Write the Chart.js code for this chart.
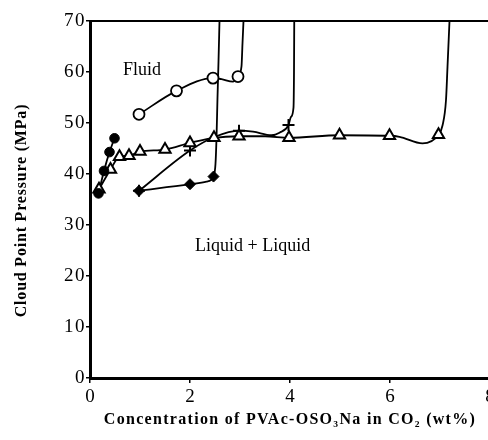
<!DOCTYPE html>
<html><head><meta charset="utf-8">
<script src="https://cdn.jsdelivr.net/npm/chart.js@4/dist/chart.umd.min.js"></script>
<style>
html,body{margin:0;padding:0;background:#fff;overflow:hidden;width:488px;height:440px;}
#wrap{position:relative;width:510px;height:440px;}
canvas{display:block;}
</style></head><body>
<div id="wrap"><canvas id="c" width="510" height="440"></canvas></div>
<script>
// ---- axis ticks ----
const xTickValues = [0, 2, 4, 6, 8];
const yTickValues = [0, 10, 20, 30, 40, 50, 60, 70];

// ---- measured points (markers) ----
const filledCircleX = [0.17, 0.28, 0.39, 0.49];
const filledCircleY = [36.2, 40.6, 44.3, 47.0];

const openTriangleX = [0.18, 0.41, 0.59, 0.78, 1.0, 1.5, 2.0, 2.48, 2.98, 3.98, 4.99, 5.99, 6.97];
const openTriangleY = [37.0, 40.9, 43.4, 43.6, 44.4, 44.8, 46.1, 47.1, 47.4, 47.1, 47.6, 47.5, 47.7];

const openCircleX = [0.98, 1.73, 2.46, 2.96];
const openCircleY = [51.7, 56.3, 58.8, 59.1];

const diamondX = [0.98, 2.0, 2.47];
const diamondY = [36.7, 38.0, 39.5];

const plusX = [0.98, 2.0, 2.98, 3.97];
const plusY = [36.7, 44.6, 48.5, 49.6];

// ---- curve traces (lines through the points) ----
const filledCircleLineX = [0.17, 0.28, 0.39, 0.49];
const filledCircleLineY = [36.2, 40.6, 44.3, 47.0];

const openTriangleLineX = [0.18, 0.41, 0.59, 0.78, 1.0, 1.5, 2.0, 2.48, 2.98, 3.5, 3.98, 4.99, 5.99, 6.19, 6.65, 6.97, 7.05, 7.12, 7.15, 7.19];
const openTriangleLineY = [37.0, 40.9, 43.4, 43.6, 44.4, 44.8, 46.1, 47.1, 47.4, 47.4, 47.1, 47.6, 47.5, 47.3, 46.0, 47.7, 49.5, 54.5, 61.0, 70.0];

const openCircleLineX = [0.98, 1.73, 2.46, 2.63, 2.86, 2.96, 3.03, 3.05, 3.07];
const openCircleLineY = [51.7, 56.3, 58.8, 58.6, 58.1, 59.1, 61.1, 65.6, 70.0];

const diamondLineX = [0.98, 2.0, 2.33, 2.47, 2.51, 2.53, 2.55, 2.57, 2.59];
const diamondLineY = [36.7, 38.0, 38.5, 39.5, 42.0, 47.0, 55.0, 62.0, 70.0];

const plusLineX = [0.98, 2.0, 2.5, 2.98, 3.26, 3.63, 3.79, 3.97, 4.02, 4.07, 4.08, 4.085];
const plusLineY = [36.7, 44.6, 47.3, 48.5, 48.3, 47.6, 48.1, 49.6, 51.2, 53.0, 60.0, 70.0];

// ---- text ----
const regionNames = ['Fluid', 'Liquid + Liquid'];
const xTitle = 'Concentration of PVAc-OSO\u2083Na in CO\u2082 (wt%)';
const yTitle = 'Cloud Point Pressure (MPa)';

const pts = (xs, ys) => xs.map((v, i) => ({x: v, y: ys[i]}));

function lineDs(xs, ys) {
  return {type: 'line', data: pts(xs, ys), xAxisID: 'x', yAxisID: 'y',
    borderColor: '#000', borderWidth: 1.8, pointRadius: 0, fill: false,
    tension: 0.4, cubicInterpolationMode: 'monotone', order: 10};
}
function markDs(xs, ys, style, r, bg, bw, order) {
  return {type: 'line', data: pts(xs, ys), xAxisID: 'x', yAxisID: 'y', showLine: false,
    pointStyle: style, pointRadius: r, pointBackgroundColor: bg, pointBorderColor: '#000',
    pointBorderWidth: bw, order: order};
}

// letter spacing / shift applied to axis titles and y tick labels
const titleStyle = {x: {spacing: 1.3, dy: 0}, y: {spacing: 0.8, dy: 11}};
const tickSpacing = {x: 0, y: 1.5};
const spacingPlugin = {
  id: 'titleSpacing',
  beforeDraw(chart) {
    ['x', 'y'].forEach(id => {
      const s = chart.scales[id];
      if (s && !s._spWrapped) {
        const origTitle = s.drawTitle;
        s.drawTitle = function () {
          const c = this.ctx;
          c.save();
          c.letterSpacing = titleStyle[id].spacing + 'px';
          c.translate(0, titleStyle[id].dy);
          origTitle.call(this);
          c.restore();
          c.letterSpacing = '0px';
        };
        const origLabels = s.drawLabels;
        s.drawLabels = function (area) {
          const c = this.ctx;
          c.letterSpacing = tickSpacing[id] + 'px';
          origLabels.call(this, area);
          c.letterSpacing = '0px';
        };
        s._spWrapped = true;
      }
    });
  }
};

const labelPos = [{x: 0.66, y: 60.4}, {x: 2.1, y: 25.9}];
const labelPlugin = {
  id: 'regionLabels',
  afterDatasetsDraw(chart) {
    const {ctx, scales: {x, y}} = chart;
    ctx.save();
    ctx.font = '18px "Liberation Serif"';
    ctx.fillStyle = '#000';
    ctx.textBaseline = 'middle';
    ctx.textAlign = 'left';
    regionNames.forEach((t, i) => ctx.fillText(t, x.getPixelForValue(labelPos[i].x), y.getPixelForValue(labelPos[i].y)));
    ctx.restore();
  }
};

new Chart(document.getElementById('c'), {
  data: {
    datasets: [
      lineDs(filledCircleLineX, filledCircleLineY),
      lineDs(openTriangleLineX, openTriangleLineY),
      lineDs(openCircleLineX, openCircleLineY),
      lineDs(diamondLineX, diamondLineY),
      lineDs(plusLineX, plusLineY),
      markDs(plusX, plusY, 'cross', 6, '#000', 2, 3),
      markDs(openTriangleX, openTriangleY, 'triangle', 6.5, '#fff', 2, 2),
      markDs(openCircleX, openCircleY, 'circle', 5.5, '#fff', 1.8, 1),
      markDs(filledCircleX, filledCircleY, 'circle', 4.8, '#000', 1, 1),
      markDs(diamondX, diamondY, 'rectRot', 5.5, '#000', 1, 0)
    ]
  },
  options: {
    responsive: false,
    devicePixelRatio: 1,
    animation: false,
    layout: {padding: {top: 21, right: 20, left: 0, bottom: 0}},
    plugins: {legend: {display: false}, tooltip: {enabled: false}},
    scales: {
      x: {
        type: 'linear', position: 'bottom',
        min: xTickValues[0], max: xTickValues[xTickValues.length - 1],
        afterBuildTicks: s => { s.ticks = xTickValues.map(v => ({value: v})); },
        afterFit: s => { s.height = 62; },
        ticks: {color: '#000', font: {family: '"Liberation Serif"', size: 19}, padding: 3, maxRotation: 0, autoSkip: false},
        grid: {drawOnChartArea: false, drawTicks: true, tickLength: 5, color: '#000', lineWidth: 1.5},
        border: {display: true, color: '#000', width: 3},
        title: {display: true, text: xTitle, color: '#000', font: {family: '"Liberation Serif"', size: 16, weight: 'bold'}, padding: {top: 0, bottom: 11}}
      },
      x2: {
        type: 'linear', position: 'top', min: 0, max: 8,
        afterFit: s => { s.height = 0; },
        ticks: {display: false},
        grid: {display: false},
        border: {display: true, color: '#000', width: 2}
      },
      y: {
        type: 'linear', position: 'left',
        min: yTickValues[0], max: yTickValues[yTickValues.length - 1],
        afterBuildTicks: s => { s.ticks = yTickValues.map(v => ({value: v})); },
        afterFit: s => { s.width = 90; },
        ticks: {color: '#000', font: {family: '"Liberation Serif"', size: 19}, padding: 0, autoSkip: false},
        grid: {drawOnChartArea: false, drawTicks: true, tickLength: 4, color: '#000', lineWidth: 1.5},
        border: {display: true, color: '#000', width: 3},
        title: {display: true, text: yTitle, color: '#000', font: {family: '"Liberation Serif"', size: 16, weight: 'bold'}, padding: {top: 12, bottom: 0}}
      }
    }
  },
  plugins: [spacingPlugin, labelPlugin]
});
</script>
</body></html>
